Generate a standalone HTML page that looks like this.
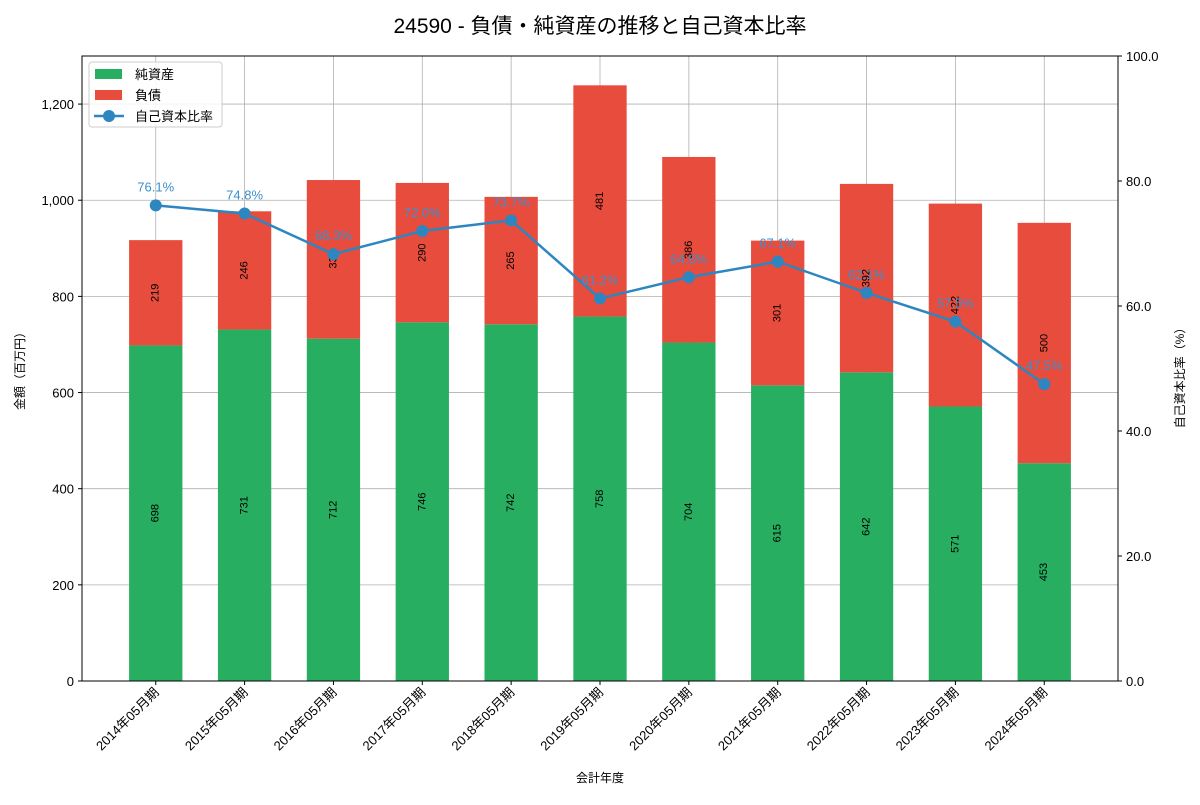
<!DOCTYPE html>
<html><head><meta charset="utf-8"><style>
body{margin:0;background:#fff;font-family:"Liberation Sans","Noto Sans CJK JP",sans-serif}
</style></head><body>
<svg id="c" width="1200" height="800" xmlns="http://www.w3.org/2000/svg" font-family="Liberation Sans, Noto Sans CJK JP, sans-serif"></svg>
<script>
const categories=["2014年05月期","2015年05月期","2016年05月期","2017年05月期","2018年05月期","2019年05月期","2020年05月期","2021年05月期","2022年05月期","2023年05月期","2024年05月期"];
const netAssets=[698,731,712,746,742,758,704,615,642,571,453];
const liabilities=[219,246,330,290,265,481,386,301,392,422,500];
const ratio=[76.1,74.8,68.3,72.0,73.7,61.2,64.6,67.1,62.1,57.5,47.5];
const leftTicks=[0,200,400,600,800,1000,1200];
const rightTicks=[0,20,40,60,80,100];
const L=82,R=1118,T=56,B=681;
const svg=document.getElementById('c');const NS="http://www.w3.org/2000/svg";
function el(t,a,p){const e=document.createElementNS(NS,t);for(const k in a)e.setAttribute(k,a[k]);(p||svg).appendChild(e);return e;}
const n=categories.length;
const xs=i=>L+(i+0.83)/(n-1+1.66)*(R-L);
const yL=v=>B-v/1300*(B-T);
const yR=v=>B-v/100*(B-T);
const bw=(R-L)/(n-1+1.66)*0.6;
// grid
leftTicks.forEach(v=>{const g=el('line',{x1:L,x2:R,y1:yL(v),y2:yL(v),stroke:'#b0b0b0','stroke-width':0.8});});
categories.forEach((c,i)=>{const g=el('line',{x1:xs(i),x2:xs(i),y1:T,y2:B,stroke:'#b0b0b0','stroke-width':0.8});});
// bars
categories.forEach((c,i)=>{
 const x=xs(i)-bw/2;
 const g=el('rect',{x:x,y:yL(netAssets[i]),width:bw,height:yL(0)-yL(netAssets[i]),fill:'#27ae60'});
 
 const r=el('rect',{x:x,y:yL(netAssets[i]+liabilities[i]),width:bw,height:yL(netAssets[i])-yL(netAssets[i]+liabilities[i]),fill:'#e74c3c'});
 
 const y1=yL(netAssets[i]/2),y2=yL(netAssets[i]+liabilities[i]/2);
 const t1=el('text',{x:xs(i),y:y1,'font-size':11,'text-anchor':'middle','dominant-baseline':'central',transform:`rotate(-90 ${xs(i)} ${y1})`});t1.textContent=netAssets[i];
 
 const t2=el('text',{x:xs(i),y:y2,'font-size':11,'text-anchor':'middle','dominant-baseline':'central',transform:`rotate(-90 ${xs(i)} ${y2})`});t2.textContent=liabilities[i];
 
});
// line
const pl=el('polyline',{points:ratio.map((v,i)=>xs(i)+','+yR(v)).join(' '),fill:'none',stroke:'#2e86c1','stroke-width':2.5});

ratio.forEach((v,i)=>{
 const c=el('circle',{cx:xs(i),cy:yR(v),r:6,fill:'#2e86c1'});
 const t=el('text',{x:xs(i),y:yR(v)-14,'font-size':13,'text-anchor':'middle',fill:'#3c8fd0'});t.textContent=v.toFixed(1)+'%';
 
});
// axes frame
const f=el('rect',{x:L,y:T,width:R-L,height:B-T,fill:'none',stroke:'#000','stroke-width':1});
leftTicks.forEach(v=>{el('line',{x1:L-4,x2:L,y1:yL(v),y2:yL(v),stroke:'#000'});const t=el('text',{x:L-8,y:yL(v)+5,'font-size':13,'text-anchor':'end'});t.textContent=v.toLocaleString('en-US');});
rightTicks.forEach(v=>{el('line',{x1:R,x2:R+4,y1:yR(v),y2:yR(v),stroke:'#000'});const t=el('text',{x:R+8,y:yR(v)+5,'font-size':13});t.textContent=v.toFixed(1);});
categories.forEach((c,i)=>{el('line',{x1:xs(i),x2:xs(i),y1:B,y2:B+4,stroke:'#000'});const t=el('text',{x:xs(i)+4,y:B+12,'font-size':13,'text-anchor':'end',transform:`rotate(-45 ${xs(i)+4} ${B+12})`});t.textContent=c;});
// titles
let t=el('text',{x:600,y:33,'font-size':21,'text-anchor':'middle'});t.textContent='24590 - 負債・純資産の推移と自己資本比率';
t=el('text',{x:600,y:782,'font-size':12,'text-anchor':'middle'});t.textContent='会計年度';
t=el('text',{x:24,y:368,'font-size':12,'text-anchor':'middle',transform:'rotate(-90 24 368)'});t.textContent='金額（百万円）';
t=el('text',{x:1184,y:375,'font-size':12,'text-anchor':'middle',transform:'rotate(-90 1184 375)'});t.textContent='自己資本比率（%）';
// legend
const lg=el('g',{});
el('rect',{x:89,y:62,width:133,height:65,fill:'#fff','fill-opacity':0.85,stroke:'#ccc',rx:3},lg);
el('rect',{x:95,y:69,width:27,height:10,fill:'#27ae60'},lg);
el('rect',{x:95,y:90,width:27,height:10,fill:'#e74c3c'},lg);
el('line',{x1:94,x2:124,y1:116,y2:116,stroke:'#2e86c1','stroke-width':2.5},lg);
el('circle',{cx:109,cy:116,r:6,fill:'#2e86c1'},lg);
[['純資産',79],['負債',100],['自己資本比率',121]].forEach(([s,y])=>{const e=el('text',{x:135,y:y,'font-size':13},lg);e.textContent=s;});
</script>
</body></html>
